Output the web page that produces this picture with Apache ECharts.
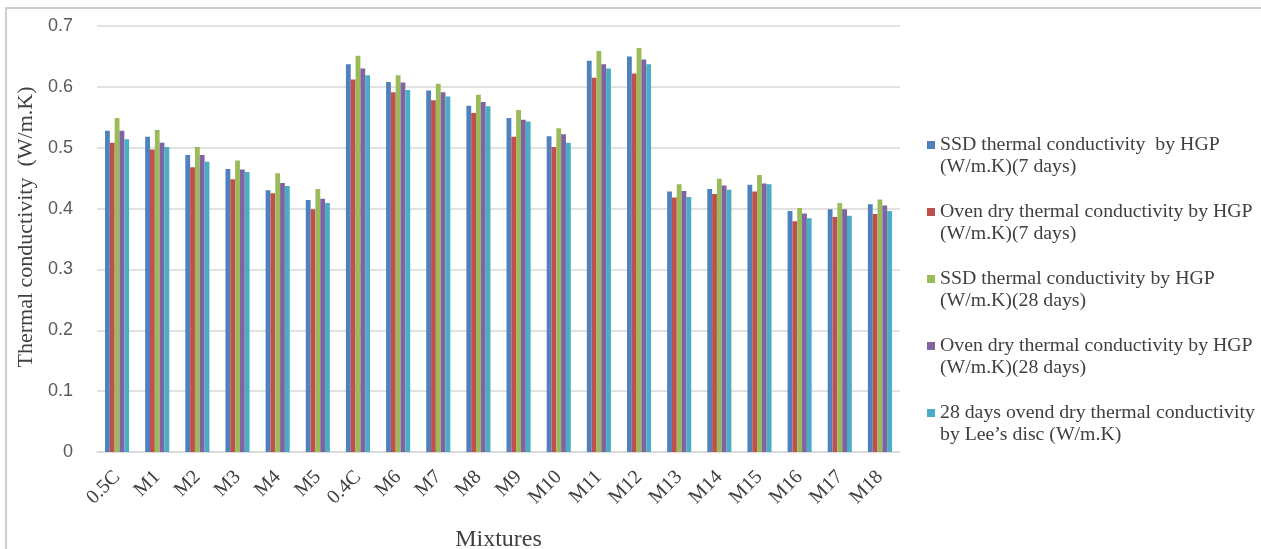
<!DOCTYPE html>
<html>
<head>
<meta charset="utf-8">
<title>Thermal conductivity of mixtures</title>
<script src="https://cdn.jsdelivr.net/npm/echarts@6/dist/echarts.min.js"></script>
<style>
  html, body { margin: 0; padding: 0; background: #ffffff; }
  #chart { width: 1261px; height: 549px; }
</style>
</head>
<body>
<div id="chart"></div>
<script>
// Mixture labels along the x axis
const mixtures = ['0.5C', 'M1', 'M2', 'M3', 'M4', 'M5', '0.4C', 'M6', 'M7', 'M8', 'M9', 'M10',
                  'M11', 'M12', 'M13', 'M14', 'M15', 'M16', 'M17', 'M18'];

// Series names (legend text, two lines each)
const seriesNames = [
  'SSD thermal conductivity  by HGP\n(W/m.K)(7 days)',
  'Oven dry thermal conductivity by HGP\n(W/m.K)(7 days)',
  'SSD thermal conductivity by HGP\n(W/m.K)(28 days)',
  'Oven dry thermal conductivity by HGP\n(W/m.K)(28 days)',
  '28 days ovend dry thermal conductivity\nby Lee\u2019s disc (W/m.K)'
];

// Thermal conductivity values, W/m.K
const ssdHgp7 = [0.528, 0.518, 0.488, 0.465, 0.430, 0.414, 0.637, 0.608, 0.594, 0.569, 0.549, 0.519,
                 0.643, 0.650, 0.428, 0.432, 0.439, 0.396, 0.399, 0.407];
const ovenHgp7 = [0.508, 0.497, 0.468, 0.448, 0.425, 0.399, 0.612, 0.591, 0.578, 0.557, 0.518, 0.501,
                  0.615, 0.622, 0.418, 0.424, 0.428, 0.379, 0.386, 0.391];
const ssdHgp28 = [0.549, 0.529, 0.501, 0.479, 0.458, 0.432, 0.651, 0.619, 0.605, 0.587, 0.562, 0.532,
                  0.659, 0.664, 0.440, 0.449, 0.455, 0.401, 0.409, 0.415];
const ovenHgp28 = [0.528, 0.508, 0.488, 0.464, 0.442, 0.416, 0.630, 0.607, 0.591, 0.575, 0.546, 0.522,
                   0.637, 0.645, 0.429, 0.438, 0.441, 0.392, 0.399, 0.405];
const leesDisc28 = [0.514, 0.501, 0.477, 0.460, 0.437, 0.409, 0.619, 0.595, 0.584, 0.568, 0.543, 0.508,
                    0.630, 0.637, 0.419, 0.431, 0.440, 0.384, 0.388, 0.396];

// Y axis ticks
const yMin = 0, yMax = 0.7, yStep = 0.1;

const seriesValues = [ssdHgp7, ovenHgp7, ssdHgp28, ovenHgp28, leesDisc28];
const palette = ['#4F81BD', '#C0504D', '#9BBB59', '#8064A2', '#4BACC6'];

const serif = '"Liberation Serif", "Times New Roman", serif';
const sans = '"Liberation Sans", Arial, sans-serif';

const chart = echarts.init(document.getElementById('chart'), null, { renderer: 'canvas' });

chart.setOption({
  animation: false,
  backgroundColor: '#ffffff',
  color: palette,
  grid: { left: 97, right: 361, top: 26, bottom: 97, containLabel: false, outerBoundsMode: 'none' },
  legend: {
    orient: 'vertical',
    left: 922,
    top: 107,
    itemWidth: 8,
    itemHeight: 8,
    itemGap: 1,
    icon: 'rect',
    // a leading blank line keeps each swatch level with the first line of its label
    formatter: name => '\n' + name,
    textStyle: {
      fontFamily: serif,
      fontSize: 19.8,
      lineHeight: 22,
      color: '#404040'
    },
    data: seriesNames
  },
  xAxis: {
    type: 'category',
    data: mixtures,
    name: 'Mixtures',
    nameLocation: 'middle',
    nameGap: 76,
    nameTextStyle: { fontFamily: serif, fontSize: 24, color: '#404040' },
    axisLine: { lineStyle: { color: '#d9d9d9', width: 1.5 } },
    axisTick: { show: false },
    axisLabel: {
      rotate: 45,
      margin: 22,
      interval: 0,
      fontFamily: serif,
      fontSize: 20,
      color: '#404040'
    }
  },
  yAxis: {
    type: 'value',
    min: yMin,
    max: yMax,
    interval: yStep,
    name: 'Thermal conductivity  (W/m.K)',
    nameLocation: 'middle',
    nameGap: 60,
    nameTextStyle: { fontFamily: serif, fontSize: 22, color: '#404040', padding: [0, 0, 0, 24] },
    axisLine: { show: false },
    axisTick: { show: false },
    axisLabel: {
      margin: 24,
      fontFamily: sans,
      fontSize: 18,
      color: '#595959',
      formatter: v => (Math.round(v * 10) / 10).toString()
    },
    splitLine: { lineStyle: { color: '#d9d9d9', width: 1.5 } }
  },
  series: seriesNames.map((name, i) => ({
    name,
    type: 'bar',
    data: seriesValues[i],
    barGap: '0%',
    barCategoryGap: '40%',
    itemStyle: { color: palette[i] }
  })),
  graphic: [
    {
      type: 'polyline',
      silent: true,
      shape: { points: [[6, 549], [6, 8], [1261, 8]] },
      style: { stroke: '#bfbfbf', lineWidth: 1.5, fill: null }
    }
  ]
});
</script>
</body>
</html>
